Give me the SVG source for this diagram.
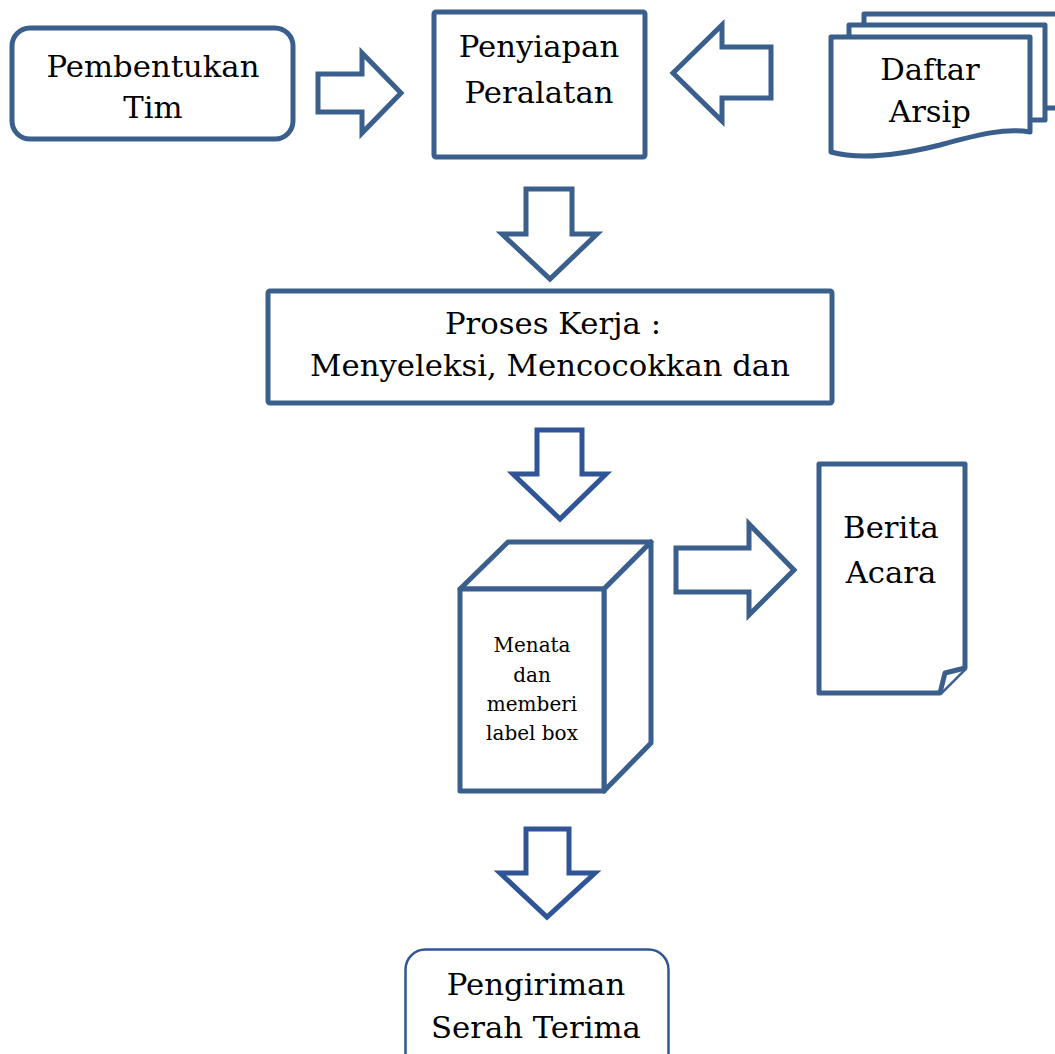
<svg xmlns="http://www.w3.org/2000/svg" width="1055" height="1054" viewBox="0 0 1055 1054">
  <style>
    .shape { fill: #ffffff; stroke: #3A5F8C; stroke-width: 5; stroke-linejoin: round; }
    .arrow { fill: #ffffff; stroke: #3A5F8C; stroke-width: 5; stroke-linejoin: miter; }
    .arrow.dark { stroke: #2F5597; }
    .thin { fill: #ffffff; stroke: #2F5597; stroke-width: 2.5; }
    text { font-family: "DejaVu Serif", "Liberation Serif", serif; fill: #000000; text-anchor: middle; }
    .big { font-size: 30.7px; }
    .small { font-size: 20px; }
  </style>
  <rect width="1055" height="1054" fill="#ffffff"/>

  <!-- block arrows between steps -->
  <g id="connectors">
    <polygon class="arrow" points="318,74 362,74 362,53 401,93 362,133 362,112 318,112"/>
    <polygon class="arrow" points="673,73 722,25 722,47 771,47 771,98 722,98 722,121"/>
    <polygon class="arrow" points="526,189 572,189 572,234 597,234 550,279 502,234 526,234"/>
    <polygon class="arrow dark" points="537,430 582,430 582,474 606,474 560,519 513,474 537,474"/>
    <polygon class="arrow" points="676,548 749,548 749,524 794,570 749,615 749,592 676,592"/>
    <polygon class="arrow dark" points="526,829 569,829 569,873 595,873 547,917 500,873 526,873"/>
  </g>

  <g id="pembentukan-tim">
    <rect class="shape" x="12" y="28" width="281" height="111" rx="18" ry="18"/>
    <text class="big" x="153" y="77">Pembentukan</text>
    <text class="big" x="153" y="118">Tim</text>
  </g>

  <g id="penyiapan-peralatan">
    <rect class="shape" x="434" y="12" width="211" height="145" rx="2"/>
    <text class="big" x="539" y="57">Penyiapan</text>
    <text class="big" x="539" y="103">Peralatan</text>
  </g>

  <g id="daftar-arsip">
    <!-- back sheet (runs past the right edge) -->
    <path class="shape" d="M864,37 L864,14 L1070,14 L1070,108 L1045,108"/>
    <!-- middle sheet -->
    <path class="shape" d="M849,37 L849,25 L1045,25 L1045,120 L1030,120"/>
    <!-- front sheet with wavy foot -->
    <path class="shape" d="M831,37 L1030,37 L1030,132 C1005,128 980,134 940,145 C900,155 860,160 831,152 Z"/>
    <text class="big" x="930" y="80">Daftar</text>
    <text class="big" x="930" y="122">Arsip</text>
  </g>

  <g id="proses-kerja">
    <rect class="shape" x="268" y="291" width="564" height="112" rx="2"/>
    <text class="big" x="553" y="334">Proses Kerja :</text>
    <text class="big" x="550" y="376">Menyeleksi, Mencocokkan dan</text>
  </g>

  <g id="menata-box">
    <path class="shape" d="M460,589 L508,542 L651,542 L604,589 Z"/>
    <path class="shape" d="M604,589 L651,542 L651,743 L604,791 Z"/>
    <rect class="shape" x="460" y="589" width="144" height="202"/>
    <text class="small" x="532" y="652">Menata</text>
    <text class="small" x="532" y="682">dan</text>
    <text class="small" x="532" y="711">memberi</text>
    <text class="small" x="532" y="740">label box</text>
  </g>

  <g id="berita-acara">
    <path class="shape" d="M819,464 L965,464 L965,668 L940,693 L819,693 Z"/>
    <path class="shape" d="M940,693 L945,673 L965,668"/>
    <text class="big" x="891" y="538">Berita</text>
    <text class="big" x="891" y="583">Acara</text>
  </g>

  <g id="pengiriman">
    <rect class="thin" x="405.5" y="949.5" width="263" height="130" rx="20" ry="20"/>
    <text class="big" x="536" y="995">Pengiriman</text>
    <text class="big" x="536" y="1038">Serah Terima</text>
  </g>
</svg>
